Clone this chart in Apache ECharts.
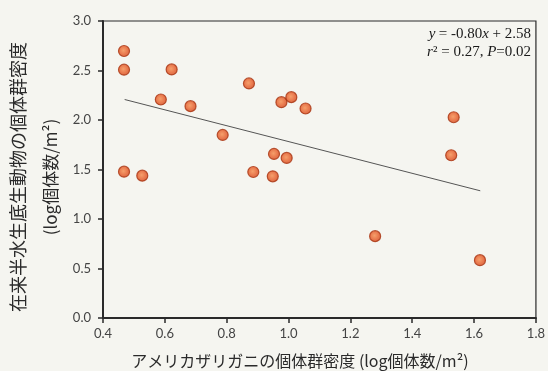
<!DOCTYPE html>
<html>
<head>
<meta charset="utf-8">
<script src="https://cdn.jsdelivr.net/npm/echarts@6/dist/echarts.min.js"></script>
<style>
html,body{margin:0;padding:0;background:#f5f5f0;}
#c{width:548px;height:371px;}
</style>
</head>
<body>
<div id="c"></div>
<script>
// Data
const crayfishDensity = [0.468, 0.468, 0.468, 0.527, 0.587, 0.622, 0.683, 0.787, 0.872, 0.886, 0.949, 0.953, 0.977, 0.994, 1.009, 1.055, 1.280, 1.526, 1.534, 1.619];
const nativeDensity  = [2.697, 2.508, 1.478, 1.438, 2.207, 2.511, 2.140, 1.849, 2.369, 1.475, 1.431, 1.657, 2.180, 1.617, 2.231, 2.116, 0.827, 1.644, 2.028, 0.584];
const trendX = [0.47, 1.62];
const trendY = [2.207, 1.285];
const xTicks = ['0.4','0.6','0.8','1.0','1.2','1.4','1.6','1.8'];
const yTicks = ['0.0','0.5','1.0','1.5','2.0','2.5','3.0'];
const xTitle = 'アメリカザリガニの個体群密度 (log個体数/m²)';
const yTitle1 = '在来半水生底生動物の個体群密度';
const yTitle2 = '(log個体数/m²)';

const chart = echarts.init(document.getElementById('c'), null, {renderer:'canvas'});
const pts = crayfishDensity.map((x,i)=>[x, nativeDensity[i]]);
const tickFont = {fontFamily:'Lato, "Open Sans", sans-serif', fontSize:13, color:'#444'};
const serif = '"Liberation Serif", serif';

chart.setOption({
  backgroundColor:'#f5f5f0',
  animation:false,
  grid:{left:103, right:11, top:21, bottom:53, show:true, borderColor:'#2a2a2a', borderWidth:1.2, backgroundColor:'transparent'},
  xAxis:{
    type:'value', min:0.4, max:1.8, interval:0.2,
    axisLine:{show:true, lineStyle:{color:'#2a2a2a', width:2}},
    axisTick:{show:true, inside:false, length:5, lineStyle:{color:'#2a2a2a', width:1.5}},
    splitLine:{show:false},
    axisLabel:Object.assign({margin:9, formatter:(v)=>xTicks[Math.round((v-0.4)/0.2)]}, tickFont)
  },
  yAxis:{
    type:'value', min:0, max:3, interval:0.5,
    axisLine:{show:true, lineStyle:{color:'#2a2a2a', width:2}},
    axisTick:{show:true, inside:false, length:5, lineStyle:{color:'#2a2a2a', width:1.5}},
    splitLine:{show:false},
    axisLabel:Object.assign({margin:12, formatter:(v)=>yTicks[Math.round(v/0.5)]}, tickFont)
  },
  series:[
    {
      type:'line', data:trendX.map((x,i)=>[x,trendY[i]]), symbol:'none',
      lineStyle:{color:'#555', width:1}, z:2
    },
    {
      type:'scatter', data:pts, symbolSize:11, z:3,
      itemStyle:{
        color:new echarts.graphic.RadialGradient(0.45,0.45,0.6,[
          {offset:0,color:'#f58a4a'},{offset:0.55,color:'#e65a26'},{offset:1,color:'#cc4218'}]),
        borderColor:'#a8320f', borderWidth:1.2
      }
    }
  ],
  graphic:[
    {type:'text', right:17, top:27, style:{
      text:'{i|y} {n|= -0.80}{i|x}{n| + 2.58}',
      rich:{i:{fontFamily:serif, fontStyle:'italic', fontSize:15, fill:'#1a1a1a'}, n:{fontFamily:serif, fontSize:15, fill:'#1a1a1a'}},
      textAlign:'right'}},
    {type:'text', right:17, top:45, style:{
      text:'{i|r}{n|² = 0.27, }{i|P}{n|=0.02}',
      rich:{i:{fontFamily:serif, fontStyle:'italic', fontSize:15, fill:'#1a1a1a'}, n:{fontFamily:serif, fontSize:15, fill:'#1a1a1a'}},
      textAlign:'right'}},
    {type:'text', x:300, y:361, style:{text:xTitle, font:'16px "Noto Sans CJK JP", sans-serif', fill:'#2a2a2a', textAlign:'center', textVerticalAlign:'middle'}},
    {type:'text', x:18, y:177, rotation:Math.PI/2, style:{text:yTitle1, font:'18px "Noto Sans CJK JP", sans-serif', fill:'#2a2a2a', textAlign:'center', textVerticalAlign:'middle'}},
    {type:'text', x:51, y:177, rotation:Math.PI/2, style:{text:yTitle2, font:'17px "Noto Sans CJK JP", sans-serif', fill:'#2a2a2a', textAlign:'center', textVerticalAlign:'middle'}}
  ]
});
</script>
</body>
</html>
